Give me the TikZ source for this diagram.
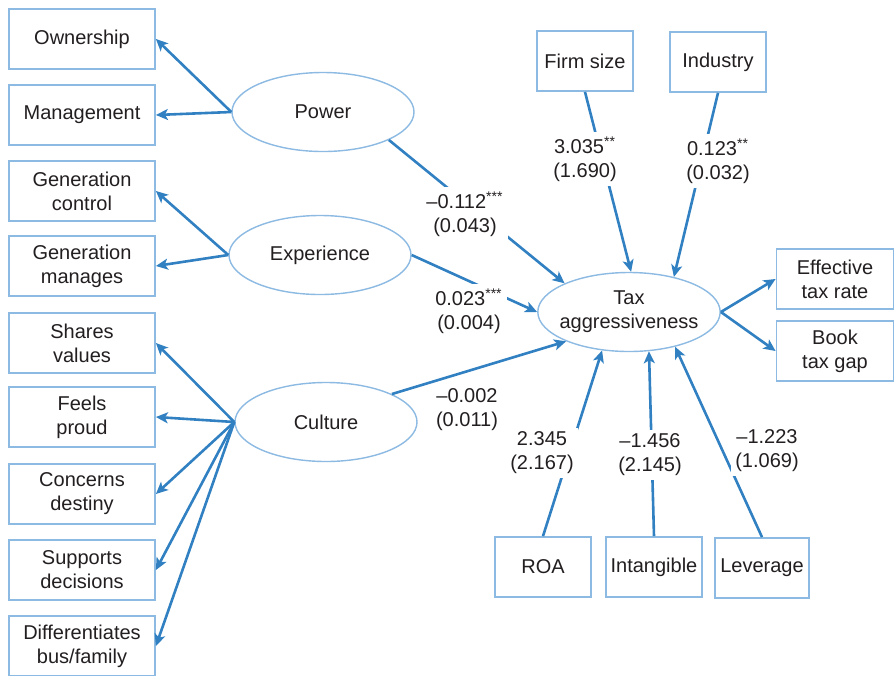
\documentclass[tikz,border=0pt]{standalone}
\usepackage{fontspec}
\setmainfont{Liberation Sans}
\usepackage{xcolor}
\usetikzlibrary{arrows.meta,shapes.geometric}
\definecolor{boxblue}{RGB}{140,186,226}
\definecolor{linkblue}{RGB}{48,128,194}
\definecolor{inkgray}{RGB}{35,31,32}

\begin{document}
\begin{tikzpicture}[x=0.5pt,y=-0.5pt,font=\fontsize{10}{12}\selectfont,
  obs/.style={draw=boxblue,line width=0.9pt,fill=white,text=inkgray,align=center,minimum width=73pt,minimum height=30pt,inner sep=1pt},
  ctrl/.style={obs,minimum width=48pt},
  lat/.style={ellipse,draw=boxblue,line width=0.7pt,fill=white,text=inkgray,align=center,minimum width=91pt,minimum height=39.5pt,inner sep=0pt},
  arr/.style={draw=linkblue,line width=1.3pt,-{Stealth[length=6pt,width=5.5pt,inset=1.5pt]}},
  coef/.style={fill=white,text=inkgray,align=center,inner sep=2pt}]
\useasboundingbox (0,0) rectangle (896,676);

\node[obs] (own) at (82,39) {Ownership};
\node[obs] (mgmt) at (82,115) {Management};
\node[obs] (genctl) at (82,191) {Generation\\control};
\node[obs] (genman) at (82,266) {Generation\\manages};
\node[obs] (shares) at (82,343) {Shares\\values};
\node[obs] (proud) at (82,417) {Feels\\proud};
\node[obs] (destiny) at (82,494) {Concerns\\destiny};
\node[obs] (supports) at (82,570) {Supports\\decisions};
\node[obs] (differ) at (82,646) {Differentiates\\bus/family};

\node[lat] (power) at (323,112) {Power};
\node[lat] (exper) at (320,255) {Experience};
\node[lat] (culture) at (326,422) {Culture};
\node[lat,inner xsep=-2.5pt] (tax) at (629,312) {Tax\\aggressiveness};

\node[ctrl] (firm) at (585,61) {Firm size};
\node[ctrl] (ind) at (718,62) {Industry};
\node[obs,minimum width=58.5pt] (etr) at (835,279) {Effective\\tax rate};
\node[obs,minimum width=58.5pt] (btg) at (835,351) {Book\\tax gap};
\node[ctrl] (roa) at (543,567) {ROA};
\node[ctrl] (intang) at (654,567) {Intangible};
\node[ctrl,minimum width=47pt] (lev) at (762,568) {Leverage};

\draw[arr] (power.west) -- (own.east);
\draw[arr] (power.west) -- (mgmt.east);
\draw[arr] (exper.west) -- (genctl.east);
\draw[arr] (exper.west) -- (genman.east);
\foreach \b in {shares,proud,destiny,supports,differ}
  \draw[arr] (culture.west) -- (\b.east);

\draw[arr] (power.-23) -- (tax.156);
\draw[arr] (exper.east) -- (tax.west);
\draw[arr] (culture.23) -- (tax.205);
\draw[arr] (firm.south) -- (tax.87);
\draw[arr] (ind.south) -- (tax.38);
\draw[arr] (roa.north) -- (tax.235);
\draw[arr] (intang.north) -- (tax.-63);
\draw[arr] (lev.north) -- (tax.-37);
\draw[arr] (tax.east) -- (etr.west);
\draw[arr] (tax.east) -- (btg.west);

\node[coef] (cpower) at (465,214) {\textendash0.112\textsuperscript{***}\\(0.043)};
\node[coef] (cexper) at (469,311) {0.023\textsuperscript{***}\\(0.004)};
\node[coef] (cculture) at (467,410) {\textendash0.002\\(0.011)};
\node[coef] (cfirm) at (585,159) {3.035\textsuperscript{**}\\(1.690)};
\node[coef] (cind) at (718,161) {0.123\textsuperscript{**}\\(0.032)};
\node[coef] (croa) at (542,453) {2.345\\(2.167)};
\node[coef] (cintang) at (650,455) {\textendash1.456\\(2.145)};
\node[coef] (clev) at (767,451) {\textendash1.223\\(1.069)};

\end{tikzpicture}
\end{document}
